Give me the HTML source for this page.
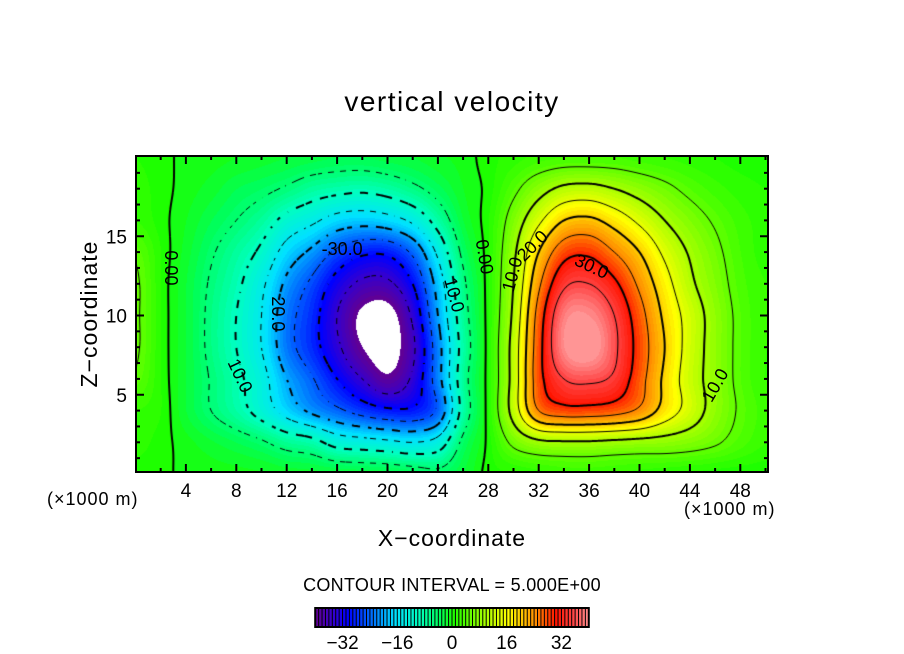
<!DOCTYPE html>
<html><head><meta charset="utf-8"><style>
body{margin:0;background:#fff;width:904px;height:654px;overflow:hidden;position:relative;font-family:"Liberation Sans",sans-serif}
.t{position:absolute;white-space:nowrap;color:#000}
</style></head><body>
<div class="t" style="left:0;width:904px;text-align:center;top:86px;font-size:28px;letter-spacing:1.5px">vertical velocity</div>
<div class="t" style="left:0px;top:300px;width:180px;text-align:center;font-size:23px;letter-spacing:1px;transform:rotate(-90deg);transform-origin:90px 14px">Z−coordinate</div>
<div class="t" style="left:0;width:904px;text-align:center;top:525px;font-size:23px;letter-spacing:1px">X−coordinate</div>
<div class="t" style="left:47px;top:489px;font-size:18px;letter-spacing:1px">(×1000 m)</div>
<div class="t" style="left:684px;top:499px;font-size:18px;letter-spacing:1px">(×1000 m)</div>
<div class="t" style="left:0;width:904px;text-align:center;top:575px;font-size:18px;letter-spacing:0.3px">CONTOUR INTERVAL = 5.000E+00</div>
<svg id="svg" width="904" height="654" style="position:absolute;left:0;top:0">
<foreignObject x="136" y="156" width="632" height="316"><canvas id="cv" width="632" height="316" xmlns="http://www.w3.org/1999/xhtml"></canvas></foreignObject>
<g id="ov"></g>
</svg>
<script>
const xs=[0,2,4,6,8,10,12,14,16,18,20,22,24,26,28,30,32,34,36,38,40,42,44,46,48,50];
const zs=[0,2,4,6,8,10,12,14,16,18,20];
const w0=[0.5,0.3,-0.3,-0.5,-0.6,-0.8,-1.2,-1.4,-1.7,-2,-2.2,-3,-4,-2,0.5,0.8,1.4,2,2.1,1.8,1.4,1,0.7,0.4,0.3,0.3];
const w2=[1.5,0.5,-0.6,-1.8,-3,-4.5,-6.9,-8.4,-12,-13,-14,-15,-13,-4,0.5,6,9,9.5,9.5,9,8.5,8,7,5.5,3.5,2];
const w4=[2,1,-2,-5,-8,-12,-17,-21,-24,-27,-29,-29,-24,-8,1,12,25,28,28,27,24,18,13,8,4.5,2.5];
const w6=[4.5,1,-2,-5.3,-8.8,-13.2,-20,-24.6,-30,-35,-39,-34,-22,-7,1,12,28,35,36,34,27,19,12.5,8,4,2];
const w8=[5.5,1,-2,-6,-10,-15,-23,-28,-34,-40,-42,-36,-22,-8,1,12,28,40,42,36,28,20,13,8,4,2];
const w10=[5.5,1,-2,-6,-10,-15,-23,-28,-35,-41,-42,-34,-20,-7,1,11,27,39,40,35,27,19,13,8,4,2];
const w12=[5.5,1,-2,-5.5,-9,-14,-21,-26,-32,-36,-36,-30,-18,-6,1,10,24,34,35,31,24,17,11,7,3.5,2];
const w14=[4.5,1,-1.5,-4.5,-7.5,-11,-17,-21,-26,-29,-29,-24,-14,-4,1,9,20,28,29,25,20,14,9.5,6,3,1.5];
const w16=[2,0.5,-1,-3,-5,-7.5,-11.5,-14,-17,-18,-17,-14,-8,-2,1,7,14,20,21,18,14,10,7,4.5,2.5,1.5];
const w18=[1.5,0.5,-0.5,-1.5,-3,-4,-5.5,-7.5,-8.5,-9,-8,-6,-3.5,-1,0.5,4,8,11,11.5,10,8,6,4,2.5,1.5,1];
const w20=[1,0.5,-0.4,-0.6,-1,-1.5,-2,-2.5,-3,-3,-2.5,-2,-1.2,-0.6,0.6,1.5,2.5,3,3,3,2.5,2,1.5,1,0.6,0.6];
const W=[w0,w2,w4,w6,w8,w10,w12,w14,w16,w18,w20];
const levels=[-40,-35,-30,-25,-20,-15,-10,-5,0,5,10,15,20,25,30,35];
const cbTicks=[-32,-16,0,16,32];
const labels=[["0.00",2.8,13,90],["-30.0",16.4,14.2,0],["20.0",11.3,10.1,90],["10.0",8.3,6.2,65],["10.0",25.3,11.3,75],["0.00",27.7,13.7,80],["10.0",29.9,12.6,-75],["20.0",31.5,14.4,-45],["30.0",36.2,13.1,25],["10.0",46,5.6,-60]];
const PX=12.6,X0=135.5,Z0=474,PZ=15.85;
const sx=x=>X0+x*PX, sz=z=>Z0-z*PZ;
const stops=[[-40,95,0,150],[-35,50,0,210],[-31,0,0,255],[-24,0,110,255],[-17,0,225,255],[-10,0,255,190],[-4,0,255,90],[0,30,255,0],[8,150,255,0],[16,255,255,0],[24,255,140,0],[30,255,20,0],[35,255,70,70],[41,255,165,165]];
function col(v){if(v<-40)return[255,255,255];v=Math.floor(v);if(v>40)v=40;
 for(let i=0;i<stops.length-1;i++){const a=stops[i],b=stops[i+1];if(v<=b[0]){const t=(v-a[0])/(b[0]-a[0]);return[a[1]+t*(b[1]-a[1]),a[2]+t*(b[2]-a[2]),a[3]+t*(b[3]-a[3])];}}return stops[stops.length-1].slice(1);}
function cr(p0,p1,p2,p3,t){return 0.5*(2*p1+(-p0+p2)*t+(2*p0-5*p1+4*p2-p3)*t*t+(-p0+3*p1-3*p2+p3)*t*t*t);}
function g(i,j){i=Math.max(0,Math.min(zs.length-1,i));j=Math.max(0,Math.min(xs.length-1,j));return W[i][j];}
function val(x,z){const fx=x/(xs[1]-xs[0]),fz=z/(zs[1]-zs[0]);const j=Math.floor(fx),i=Math.floor(fz),tx=fx-j,tz=fz-i;
 const r=[];for(let k=-1;k<3;k++)r.push(cr(g(i+k,j-1),g(i+k,j),g(i+k,j+1),g(i+k,j+2),tx));return cr(r[0],r[1],r[2],r[3],tz);}
const cv=document.getElementById('cv'),ctx=cv.getContext('2d');
const Wd=632,Hd=316,img=ctx.createImageData(Wd,Hd),F=[];
for(let py=0;py<=Hd;py++){F[py]=[];for(let px=0;px<=Wd;px++){const x=(136+px-X0)/PX,z=(Z0-(156+py))/PZ;F[py][px]=val(Math.min(x,50),Math.max(0,Math.min(z,20)));}}
for(let py=0;py<Hd;py++)for(let px=0;px<Wd;px++){const c=col(F[py][px]),k=(py*Wd+px)*4;img.data[k]=c[0];img.data[k+1]=c[1];img.data[k+2]=c[2];img.data[k+3]=255;}
ctx.putImageData(img,0,0);
const st=2;
levels.forEach(L=>{
 if(L===-40)return;
 ctx.strokeStyle='#000';ctx.lineWidth=(L%10===0)?2:1;
 ctx.beginPath();
 for(let py=0;py<Hd;py+=st)for(let px=0;px<Wd;px+=st){
  const y2=Math.min(py+st,Hd),x2=Math.min(px+st,Wd);
  const a=F[py][px],b=F[py][x2],c=F[y2][x2],d=F[y2][px];const pts=[];
  const e=(v1,v2,p1,p2)=>{if((v1-L)*(v2-L)<0){const t=(L-v1)/(v2-v1);pts.push([p1[0]+t*(p2[0]-p1[0]),p1[1]+t*(p2[1]-p1[1])]);}};
  e(a,b,[px,py],[x2,py]);e(b,c,[x2,py],[x2,y2]);e(c,d,[x2,y2],[px,y2]);e(d,a,[px,y2],[px,py]);
  if(pts.length>=2){
   if(L<0){const per=(L%10===0)?8:6;if(((Math.floor(px/per)+Math.floor(py/per))%2)!==0)continue;}
   ctx.moveTo(pts[0][0],pts[0][1]);ctx.lineTo(pts[1][0],pts[1][1]);
   if(pts.length===4){ctx.moveTo(pts[2][0],pts[2][1]);ctx.lineTo(pts[3][0],pts[3][1]);}
  }}
 ctx.stroke();
});
const NS='http://www.w3.org/2000/svg',ov=document.getElementById('ov');
function mk(tag,at,txt){const e=document.createElementNS(NS,tag);for(const k in at)e.setAttribute(k,at[k]);if(txt!==undefined)e.textContent=txt;ov.appendChild(e);return e;}
labels.forEach(l=>{const X=sx(l[1]),Y=sz(l[2]);
 const t=mk('text',{x:X,y:Y+6,'text-anchor':'middle','font-size':18,'font-family':'Liberation Sans, sans-serif',transform:`rotate(${l[3]} ${X} ${Y})`},l[0]);
 
 });
const fr=mk('rect',{x:136,y:156,width:632,height:316,fill:'none',stroke:'#000','stroke-width':2});


for(let x=2;x<=50;x+=2){const X=sx(x),L=(x%4===0)?8:4;
 mk('line',{x1:X,y1:472,x2:X,y2:472-L,stroke:'#000','stroke-width':2});mk('line',{x1:X,y1:156,x2:X,y2:156+L,stroke:'#000','stroke-width':2});
 if(x%4===0){const t=mk('text',{x:X,y:497,'text-anchor':'middle','font-size':19,'font-family':'Liberation Sans, sans-serif'},String(x));
  
  }}
for(let z=1;z<=19;z++){const Y=sz(z),L=(z%5===0)?8:4;
 mk('line',{x1:136,y1:Y,x2:136+L,y2:Y,stroke:'#000','stroke-width':2});mk('line',{x1:768,y1:Y,x2:768-L,y2:Y,stroke:'#000','stroke-width':2});
 if(z%5===0){const t=mk('text',{x:127,y:Y+7,'text-anchor':'end','font-size':19,'font-family':'Liberation Sans, sans-serif'},String(z));
  
  }}
const cbx=v=>452+v*3.42;
for(let v=-40;v<40;v++){const c=col(v+0.5);const r=mk('rect',{x:cbx(v),y:609,width:3.6,height:18,fill:`rgb(${c.map(Math.round).join(',')})`});
 
 
 mk('line',{x1:cbx(v),y1:609,x2:cbx(v),y2:627,stroke:'#000','stroke-width':1});}
const cbf=mk('rect',{x:cbx(-40),y:608,width:cbx(40)-cbx(-40),height:19,fill:'none',stroke:'#000','stroke-width':2});


cbTicks.forEach(v=>{const t=mk('text',{x:cbx(v),y:649,'text-anchor':'middle','font-size':19,'font-family':'Liberation Sans, sans-serif'},(v<0?'−':'')+Math.abs(v));
 
 });
</script>
</body></html>
